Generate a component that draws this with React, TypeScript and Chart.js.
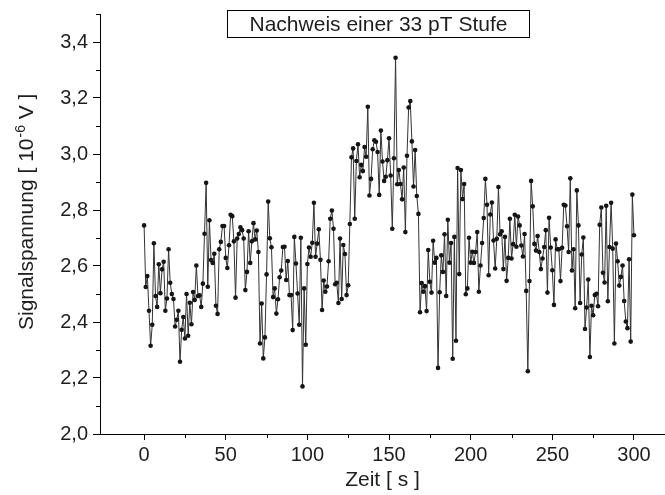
import React, { useEffect, useRef } from 'react';
import { Chart, registerables } from 'chart.js';

Chart.register(...registerables);

// Signal voltage (10^-6 V), one sample per second, t = 0 ... 99 s
const signalA = [
  2.745, 2.525, 2.564, 2.440, 2.315, 2.390, 2.681, 2.493, 2.454, 2.606,
  2.503, 2.588, 2.615, 2.440, 2.484, 2.660, 2.540, 2.500, 2.482, 2.384,
  2.408, 2.440, 2.258, 2.372, 2.418, 2.341, 2.500, 2.351, 2.469, 2.392,
  2.507, 2.479, 2.602, 2.493, 2.495, 2.454, 2.537, 2.715, 2.897, 2.526,
  2.763, 2.621, 2.611, 2.644, 2.458, 2.429, 2.660, 2.686, 2.743, 2.743,
  2.629, 2.593, 2.674, 2.783, 2.778, 2.688, 2.487, 2.698, 2.714, 2.738,
  2.728, 2.698, 2.514, 2.579, 2.724, 2.611, 2.688, 2.753, 2.695, 2.727,
  2.650, 2.323, 2.466, 2.270, 2.345, 2.570, 2.830, 2.699, 2.667, 2.489,
  2.520, 2.430, 2.481, 2.560, 2.584, 2.668, 2.669, 2.550, 2.618, 2.496,
  2.496, 2.371, 2.704, 2.609, 2.502, 2.390, 2.701, 2.170, 2.520, 2.319,
];
// t = 100 ... 199 s
const signalB = [
  2.607, 2.666, 2.633, 2.683, 2.826, 2.633, 2.680, 2.731, 2.622, 2.443,
  2.548, 2.508, 2.527, 2.617, 2.769, 2.798, 2.733, 2.535, 2.540, 2.468,
  2.698, 2.482, 2.675, 2.643, 2.496, 2.531, 2.750, 2.988, 3.020, 2.769,
  2.975, 3.035, 2.917, 2.961, 2.939, 3.025, 2.990, 3.169, 2.852, 2.911,
  3.017, 3.049, 3.044, 3.007, 2.854, 3.084, 2.973, 2.904, 2.919, 2.978,
  3.056, 2.923, 2.733, 2.985, 3.344, 2.892, 2.943, 2.893, 2.838, 2.952,
  2.721, 2.994, 3.166, 3.189, 3.045, 2.884, 3.014, 2.850, 2.786, 2.435,
  2.539, 2.508, 2.528, 2.439, 2.657, 2.544, 2.505, 2.690, 2.612, 2.629,
  2.236, 2.506, 2.638, 2.579, 2.713, 2.493, 2.765, 2.612, 2.682, 2.269,
  2.704, 2.333, 2.950, 2.571, 2.943, 2.839, 2.893, 2.499, 2.520, 2.701,
];
// t = 200 ... 300 s
const signalC = [
  2.612, 2.651, 2.611, 2.650, 2.721, 2.508, 2.602, 2.682, 2.771, 2.911,
  2.819, 2.567, 2.784, 2.827, 2.691, 2.591, 2.697, 2.882, 2.713, 2.724,
  2.589, 2.704, 2.547, 2.629, 2.769, 2.627, 2.678, 2.783, 2.669, 2.777,
  2.745, 2.673, 2.634, 2.714, 2.511, 2.224, 2.546, 2.904, 2.813, 2.679,
  2.655, 2.707, 2.650, 2.589, 2.627, 2.668, 2.728, 2.505, 2.772, 2.666,
  2.585, 2.461, 2.695, 2.660, 2.660, 2.546, 2.665, 2.819, 2.816, 2.742,
  2.650, 2.913, 2.584, 2.660, 2.449, 2.870, 2.745, 2.468, 2.641, 2.702,
  2.375, 2.452, 2.552, 2.275, 2.458, 2.424, 2.496, 2.501, 2.456, 2.747,
  2.809, 2.576, 2.541, 2.815, 2.474, 2.668, 2.826, 2.662, 2.323, 2.680,
  2.617, 2.530, 2.561, 2.602, 2.475, 2.402, 2.378, 2.624, 2.330, 2.855,
  2.710,
];

const signal = [...signalA, ...signalB, ...signalC];
const startTime = 0; // s
const timeStep = 1; // s
const times = signal.map((_, i) => startTime + i * timeStep);

const xTicks = [0, 50, 100, 150, 200, 250, 300];
const xMinorTicks = [25, 75, 125, 175, 225, 275];
const yTicks = [2.0, 2.2, 2.4, 2.6, 2.8, 3.0, 3.2, 3.4];
const yMinorTicks = [2.1, 2.3, 2.5, 2.7, 2.9, 3.1, 3.3, 3.5];
const xRange = [-27, 319];
const yRange = [2.0, 3.5];

const chartTitle = 'Nachweis einer 33 pT Stufe';
const xTitle = 'Zeit [ s ]';
const yTitleMain = 'Signalspannung [ 10';
const yTitleSup = '-6';
const yTitleEnd = ' V ]';

const FONT = '"Liberation Sans", Arial, Helvetica, sans-serif';
const INK = '#1e1e1e';

export default function App() {
  const ref = useRef<HTMLCanvasElement | null>(null);

  useEffect(() => {
    document.body.style.margin = '0';
    const canvas = ref.current;
    if (!canvas) return;

    const decorations = {
      id: 'decorations',
      afterDraw(chart: any) {
        const c = chart.ctx as CanvasRenderingContext2D;
        const xs = chart.scales.x;
        const ys = chart.scales.y;
        c.save();
        c.strokeStyle = '#000';
        c.lineWidth = 1;
        c.beginPath();
        for (const v of xMinorTicks) {
          const px = Math.round(xs.getPixelForValue(v)) + 0.5;
          c.moveTo(px, xs.top);
          c.lineTo(px, xs.top + 4);
        }
        for (const v of yMinorTicks) {
          const py = Math.round(ys.getPixelForValue(v)) + 0.5;
          c.moveTo(ys.right, py);
          c.lineTo(ys.right - 4, py);
        }
        c.stroke();

        // title box
        const bx = 227.5, by = 10.5, bw = 302, bh = 27;
        c.fillStyle = '#fff';
        c.fillRect(bx, by, bw, bh);
        c.strokeRect(bx, by, bw, bh);
        c.fillStyle = INK;
        c.font = `21px ${FONT}`;
        c.textAlign = 'center';
        c.textBaseline = 'middle';
        c.fillText(chartTitle, bx + bw / 2, by + bh / 2 + 1);

        // y axis title with superscript
        c.translate(33, 330);
        c.rotate(-Math.PI / 2);
        c.textAlign = 'left';
        c.textBaseline = 'alphabetic';
        c.font = `21px ${FONT}`;
        c.fillText(yTitleMain, 0, 0);
        let w = c.measureText(yTitleMain).width;
        c.font = `14px ${FONT}`;
        c.fillText(yTitleSup, w + 1, -8);
        w += c.measureText(yTitleSup).width + 1;
        c.font = `21px ${FONT}`;
        c.fillText(yTitleEnd, w, 0);
        c.restore();
      },
    };

    const chart = new Chart(canvas, {
      type: 'line',
      data: {
        datasets: [
          {
            data: times.map((t, i) => ({ x: t, y: signal[i] })),
            borderColor: '#333',
            borderWidth: 1,
            pointRadius: 2.3,
            pointBackgroundColor: '#151515',
            pointBorderWidth: 0,
            tension: 0,
          },
        ],
      },
      options: {
        responsive: false,
        animation: false,
        layout: { autoPadding: false, padding: { top: 14, right: 0, left: 0, bottom: 0 } },
        plugins: {
          legend: { display: false },
          tooltip: { enabled: false },
          title: { display: false },
        },
        scales: {
          x: {
            type: 'linear',
            min: xRange[0],
            max: xRange[1],
            afterBuildTicks: (s: any) => {
              s.ticks = xTicks.map((v) => ({ value: v }));
            },
            afterFit: (s: any) => {
              s.height = 61;
              s.paddingLeft = 0;
              s.paddingRight = 0;
            },
            grid: { drawOnChartArea: false, drawTicks: true, tickLength: 6, color: '#000' },
            border: { display: true, color: '#000', width: 1 },
            ticks: {
              color: INK,
              font: { family: FONT, size: 20 },
              padding: 3,
              maxRotation: 0,
              autoSkip: false,
              callback: (v: any) => String(v),
            },
            title: {
              display: true,
              text: xTitle,
              color: INK,
              font: { family: FONT, size: 21 },
              padding: { top: 0, bottom: 2 },
            },
          },
          y: {
            type: 'linear',
            min: yRange[0],
            max: yRange[1],
            afterBuildTicks: (s: any) => {
              s.ticks = yTicks.map((v) => ({ value: v }));
            },
            afterFit: (s: any) => {
              s.width = 100;
              s.paddingTop = 0;
              s.paddingBottom = 0;
            },
            grid: { drawOnChartArea: false, drawTicks: true, tickLength: 7, color: '#000' },
            border: { display: true, color: '#000', width: 1 },
            ticks: {
              color: INK,
              font: { family: FONT, size: 20 },
              padding: 5,
              autoSkip: false,
              callback: (v: any) => Number(v).toFixed(1).replace('.', ','),
            },
            title: { display: false },
          },
        },
      },
      plugins: [decorations],
    });

    return () => chart.destroy();
  }, []);

  return <canvas ref={ref} width={665} height={495} style={{ display: 'block' }} />;
}
